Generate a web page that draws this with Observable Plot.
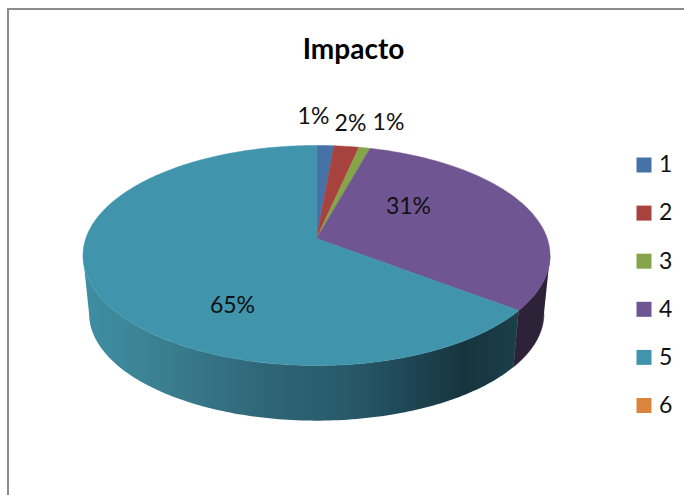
<!DOCTYPE html>
<html><head><meta charset="utf-8">
<style>html,body{margin:0;padding:0;background:#fff;overflow:hidden}svg{display:block}</style>
<script src="https://cdn.jsdelivr.net/npm/d3@7"></script>
<script src="https://cdn.jsdelivr.net/npm/@observablehq/plot@0.6"></script>
</head><body><div id="chart"></div>
<script>
const title = "Impacto";
const categories = ["1","2","3","4","5","6"];
const shares = [1.4,2.0,0.9,31.1,64.6,0];
const colors = ["#4672a8","#a8423f","#86a44a","#6f5592","#4095ad","#db843d"];

// Page layout (pixels) and tilt of the pie
const W = 684, H = 495;
const cx = 316, cy = 238, a = 230.7, b = 107.4, k = 0.1545;
const shrink = 0.974, drop = 0.544;
const labelPx = [[313,116],[350,123],[388,122],[408,206],[232,305]];
const xOf = p => (p - cx) / a, yOf = p => (cy - p) / b;

const top3d = deg => {
  const t = deg * Math.PI / 180, u = Math.sin(t), v = Math.cos(t), d = 1 + k * v;
  return {x: u / d, y: v / d};
};
const base3d = deg => {
  const p = top3d(deg);
  return {x: shrink * p.x, y: shrink * p.y - drop};
};
const arc = (d0, d1, f) => {
  const n = Math.max(2, Math.ceil(Math.abs(d1 - d0)));
  return d3.range(n + 1).map(i => f(d0 + (d1 - d0) * i / n));
};
let acc = 0;
const slices = categories.map((c, i) => {
  const d0 = acc * 3.6; acc += shares[i];
  return {c, i, d0, d1: acc * 3.6, color: colors[i], share: shares[i]};
}).filter(s => s.share > 0);

const faceRows = s => [{x: 0, y: 0}, ...arc(s.d0, s.d1, top3d), {x: 0, y: 0}];
const wallRows = (d0, d1) => [...arc(d0, d1, top3d), ...arc(d1, d0, base3d)];

const poly = (rows, fill) => Plot.line(rows, {x: "x", y: "y", fill, stroke: fill === "url(#wall5)" ? "none" : fill, strokeWidth: 0.5, curve: "linear"});

const defs = () => {
  const svg = d3.create("svg:g");
  const g = svg.append("defs").append("linearGradient").attr("id", "wall5");
  [[0,"#3f8ea3"],[0.12,"#3c8597"],[0.42,"#2f6677"],[0.62,"#27586a"],[0.88,"#16343e"],[1,"#1b404a"]].forEach(([o, c]) =>
    g.append("stop").attr("offset", o).attr("stop-color", c));
  return svg.node();
};

const legend = categories.map((c, i) => ({c, color: colors[i], x: xOf(643.5), y: yOf(164.5 + 48.1 * i)}));
const labels = slices.map((s, i) => ({x: xOf(labelPx[i][0]), y: yOf(labelPx[i][1]), text: Math.round(s.share) + "%"}));
const font = "Lato, 'Open Sans', sans-serif";
const seam = slices[4].d0;

const chart = Plot.plot({
  width: W, height: H, margin: 0,
  style: {background: "#fff", fontFamily: font},
  x: {domain: [xOf(0), xOf(W)], range: [0, W], axis: null},
  y: {domain: [yOf(H), yOf(0)], range: [H, 0], axis: null},
  marks: [
    defs,
    Plot.ruleY([yOf(8.5)], {x1: xOf(7), x2: xOf(W), stroke: "#8c8c8c", strokeWidth: 2}),
    Plot.ruleX([xOf(7.5)], {y1: yOf(8), y2: yOf(H), stroke: "#8c8c8c", strokeWidth: 2}),
    poly(wallRows(99, seam), "#2d2238"),
    poly(wallRows(seam, 261), "url(#wall5)"),
    ...slices.map(s => poly(faceRows(s), s.color)),
    Plot.text(labels, {x: "x", y: "y", text: "text", fontSize: 23, fill: "#111"}),
    Plot.text([title], {x: xOf(353), y: yOf(50), fontSize: 28, fontWeight: 700, fill: "#000"}),
    Plot.dot(legend, {x: "x", y: "y", symbol: "square", r: 8.46, fill: "color", stroke: "none"}),
    Plot.text(legend, {x: "x", y: "y", text: "c", dx: 15, textAnchor: "start", fontSize: 23, fill: "#111"})
  ]
});
document.getElementById("chart").append(chart);
</script></body></html>
